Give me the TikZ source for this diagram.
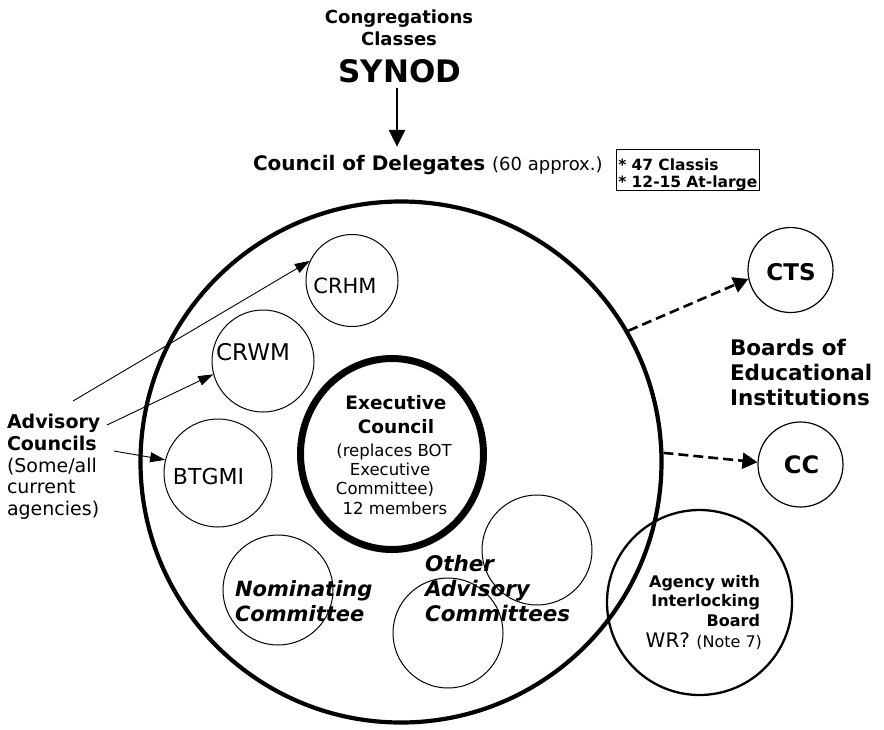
\documentclass[tikz,border=0pt]{standalone}
\usepackage{fontspec}
\setmainfont{DejaVu Sans}
\usetikzlibrary{arrows.meta,shapes.geometric,calc}
\newcommand{\myfs}[2]{\fontsize{#1pt}{#2pt}\selectfont}
\begin{document}
\begin{tikzpicture}[x=1pt,y=-1pt,
  ring/.style={circle,draw,inner sep=0pt,line width=1pt},
  txt/.style={inner sep=0pt,outer sep=0pt},
  thinarrow/.style={line width=0.9pt,-{Triangle[length=15pt,width=10pt]}},
  dasharrow/.style={line width=2.6pt,dash pattern=on 10pt off 5pt,-{Triangle[length=15pt,width=16pt]}},
  bigarrow/.style={line width=2.5pt,-{Triangle[length=17pt,width=16pt]}},
]
\useasboundingbox (0,0) rectangle (884,729);

% top (base anchor of a multi-line node = last line baseline)
\node[txt,anchor=base,align=center,font=\bfseries\myfs{18}{22}] (congr) at (399,45) {Congregations\\Classes};
\node[txt,anchor=base,font=\bfseries\myfs{31}{36}] (synod) at (400,82) {SYNOD};
\node[txt,anchor=base west,font=\bfseries\myfs{20}{24}] (cod) at (253,170) {Council of Delegates {\mdseries\myfs{18}{22}(60 approx.)}};
\draw[bigarrow] ($(synod.south)+(-3,6)$) -- ($(synod.south |- cod.north)+(-3,-8)$);
\node[draw,line width=0.8pt,anchor=north west,inner xsep=2pt,inner ysep=0pt,text width=139pt,align=left,font=\bfseries\myfs{15.5}{16.5}] (box) at (616,149) {\rule{0pt}{21.5pt}{*} 47 Classis\\{*} 12-15 At-large};

% big circle
\node[circle,draw,line width=4.2pt,inner sep=0pt,minimum size=521pt] (big) at (401,462) {};

\node[ring,minimum size=92pt] (crhm) at (352,280.5) {};
\node[txt,anchor=base,font=\myfs{21}{25}] (crhmt) at (345,293) {CRHM};
\node[ring,minimum size=102pt] (crwm) at (263,361) {};
\node[txt,anchor=base,font=\myfs{23}{27}] (crwmt) at (253,360) {CRWM};
\node[ring,minimum size=108pt] (btgmi) at (218,473) {};
\node[txt,anchor=base,font=\myfs{22}{26}] (btgmit) at (208.5,484) {BTGMI};

\node[ellipse,draw,line width=7pt,inner sep=0pt,minimum width=183pt,minimum height=191pt] (exec) at (392,454) {};
\node[txt,anchor=base,align=center,font=\bfseries\myfs{18.5}{24}] (exect) at (396,433) {Executive\\Council};
\node[txt,anchor=base,align=center,font=\myfs{16.5}{19.3}] (execs) at (394,514) {(replaces BOT\\Executive\rule{8pt}{0pt}\\Committee)\rule{18pt}{0pt}\\\rule{2pt}{0pt}12 members};

\node[ring,minimum size=110pt] (nom) at (278,590) {};
\node[txt,anchor=base west,align=left,font=\bfseries\itshape\myfs{21}{25}] (nomt) at (235,621) {Nominating\\Committee};

\node[ring,minimum size=110pt] (oac1) at (537,550) {};
\node[ring,minimum size=110pt] (oac2) at (448,633) {};
\node[txt,anchor=base west,align=left,font=\bfseries\itshape\myfs{21.5}{25}] (oact) at (425,621) {Other\\Advisory\\Committees};

% agency
\node[circle,draw,line width=2.3pt,inner sep=0pt,minimum size=185pt] (agency) at (699.5,602.5) {};
\node[txt,anchor=base east,align=right,font=\bfseries\myfs{16}{19.5}] (agt) at (760,626) {Agency with\\Interlocking\\Board};
\node[txt,anchor=base east,font=\myfs{20}{24}] (wr) at (762,647) {WR? {\myfs{16}{19}(Note 7)}};

% educational boards
\node[circle,draw,line width=1.2pt,inner sep=0pt,minimum size=85pt] (cts) at (790.5,270) {};
\node[txt,anchor=base,font=\bfseries\myfs{23}{27}] (ctst) at (791,280) {CTS};
\node[circle,draw,line width=1.2pt,inner sep=0pt,minimum size=85pt] (cc) at (800.5,464.5) {};
\node[txt,anchor=base,font=\bfseries\myfs{24}{28}] (cct) at (801.5,473) {CC};
\node[txt,anchor=base west,align=left,font=\bfseries\myfs{21.5}{25}] (boards) at (730,405) {Boards of\\Educational\\Institutions};

% left labels
\node[txt,anchor=base west,align=left,font=\bfseries\myfs{19}{22}] (adv) at (7,450) {Advisory\\Councils};
\node[txt,anchor=base west,align=left,font=\myfs{19}{21.5}] (advs) at (7,515) {(Some/all\\current\\agencies)};

\coordinate (a1) at (73,401);
\coordinate (a2) at (107,425);
\coordinate (a3) at (114,451);
\draw[thinarrow] (a1) -- (crhm.155);
\draw[thinarrow] (a2) -- (crwm.195);
\draw[thinarrow] (a3) -- (btgmi.166);

\draw[dasharrow] (big.30.7) -- (cts.192);
\draw[dasharrow] (big.2) -- (cc.177);
\end{tikzpicture}
\end{document}
